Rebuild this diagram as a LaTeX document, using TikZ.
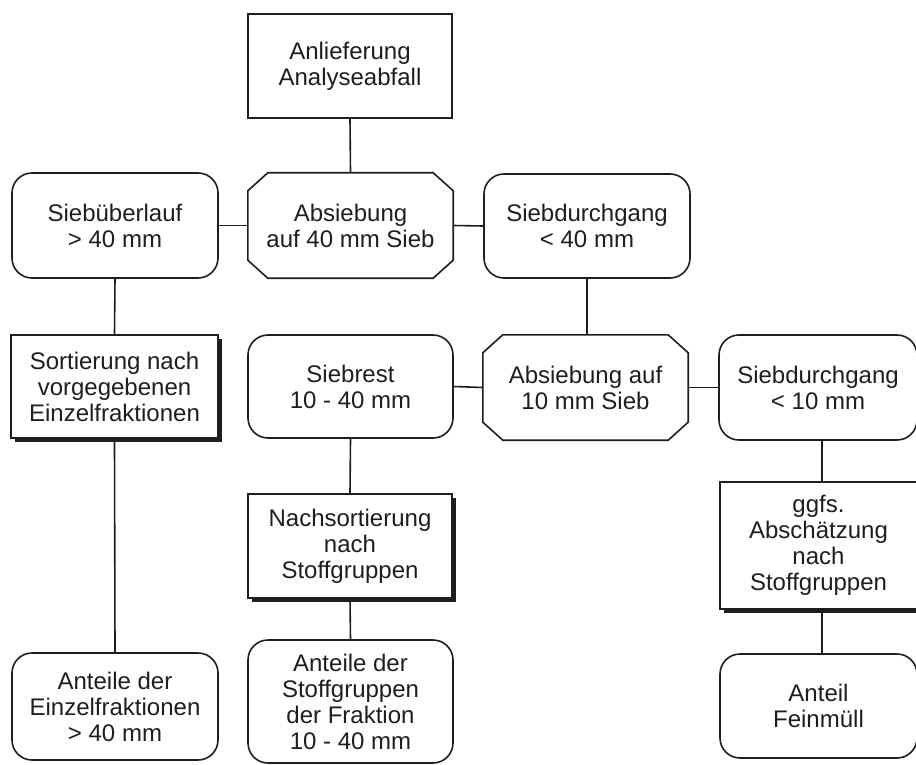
\documentclass[tikz,border=0pt]{standalone}
\usepackage{fontspec}
\setmainfont{Liberation Sans}
\usetikzlibrary{shadows}
\definecolor{ink}{HTML}{1E1E1E}
\begin{document}
\begin{tikzpicture}[x=1pt,y=-1pt,
  every node/.style={font=\fontsize{24}{26}\selectfont, align=center, text=ink, inner sep=0pt},
  line/.style={draw=ink, line width=1.6pt},
  plainbox/.style={line, rectangle, fill=white},
  roundbox/.style={line, rectangle, rounded corners=20pt, fill=white},
  shadowbox/.style={line, rectangle, fill=white,
     general shadow={fill=ink, shadow xshift=4pt, shadow yshift=-4pt}},
  cham/.style={rectangle, fill=none}
]
\clip (0,0) rectangle (916,765);
\fill[white] (0,0) rectangle (916,765);

% nodes
\node[plainbox, minimum width=204pt, minimum height=104pt] (anl) at (350,66) {Anlieferung\\Analyseabfall};
\node[cham, minimum width=205pt, minimum height=105pt] (ab40) at (350.5,225.5) {Absiebung\\auf 40 mm Sieb};
\node[roundbox, minimum width=206pt, minimum height=105pt] (sue) at (115,225.5) {Siebüberlauf\\> 40 mm};
\node[roundbox, minimum width=206pt, minimum height=104pt] (sd40) at (587,226) {Siebdurchgang\\< 40 mm};
\node[shadowbox, minimum width=207pt, minimum height=103pt] (sort) at (114.5,386.5) {Sortierung nach\\vorgegebenen\\Einzelfraktionen};
\node[roundbox, minimum width=205pt, minimum height=103pt] (srest) at (350.5,386.5) {Siebrest\\10 - 40 mm};
\node[cham, minimum width=205pt, minimum height=105pt] (ab10) at (585.5,387.5) {Absiebung auf\\10 mm Sieb};
\node[roundbox, minimum width=198pt, minimum height=105pt] (sd10) at (818,387.5) {Siebdurchgang\\< 10 mm};
\node[shadowbox, minimum width=204pt, minimum height=104pt] (nach) at (350,546) {Nachsortierung\\nach\\Stoffgruppen};
\node[shadowbox, minimum width=197pt, minimum height=127pt] (ggfs) at (818.5,545.5) {ggfs.\\Abschätzung\\nach\\Stoffgruppen};
\node[roundbox, minimum width=206pt, minimum height=107pt] (antE) at (115,706.5) {Anteile der\\Einzelfraktionen\\> 40 mm};
\node[roundbox, minimum width=205pt, minimum height=123pt] (antS) at (350.5,701.5) {Anteile der\\Stoffgruppen\\der Fraktion\\10 - 40 mm};
\node[roundbox, minimum width=197pt, minimum height=104pt] (antF) at (818.5,706) {Anteil\\Feinmüll};

% chamfered outlines
\foreach \n in {ab40,ab10}{
  \draw[line, line join=miter]
    ([xshift=20pt]\n.north west) -- ([xshift=-20pt]\n.north east)
    -- ([yshift=-18pt]\n.north east) -- ([yshift=18pt]\n.south east)
    -- ([xshift=-20pt]\n.south east) -- ([xshift=20pt]\n.south west)
    -- ([yshift=18pt]\n.south west) -- ([yshift=-18pt]\n.north west) -- cycle;
}

% connectors
\coordinate (xr) at (822,0);
\draw[line] (anl.south) -- (ab40.north);
\draw[line] (sue.east) -- (ab40.west);
\draw[line] (ab40.east) -- (sd40.west);
\draw[line] (sue.south) -- (sort.north);
\draw[line] (sd40.south) -- (sd40.south |- ab10.north);
\draw[line] (srest.east) -- (ab10.west);
\draw[line] (ab10.east) -- (sd10.west);
\draw[line] (sort.south) -- (antE.north);
\draw[line] (srest.south) -- (nach.north);
\draw[line] (nach.south) -- (antS.north);
\draw[line] (sd10.south -| xr) -- (ggfs.north -| xr);
\draw[line] (ggfs.south -| xr) -- (antF.north -| xr);
\end{tikzpicture}
\end{document}
